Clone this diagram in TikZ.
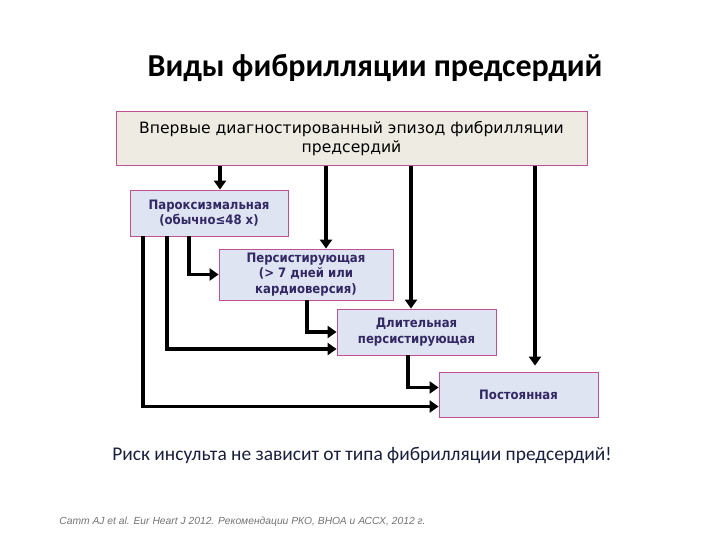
\documentclass[tikz,border=0pt]{standalone}
\usepackage{fontspec}
\setmainfont{Carlito}
\newfontfamily\boxfont{DejaVu Sans}
\newfontfamily\stagefont{DejaVu Sans Condensed}
\newfontfamily\reffont{Liberation Sans}
\usetikzlibrary{arrows.meta,positioning,calc}
\definecolor{boxbeige}{RGB}{238,236,226}
\definecolor{boxblue}{RGB}{222,228,242}
\definecolor{boxedge}{RGB}{190,80,150}
\definecolor{boxtext}{RGB}{50,40,100}
\definecolor{risktext}{RGB}{25,30,60}

\begin{document}
\begin{tikzpicture}[x=1pt,y=-1pt,
    stage/.style={draw=boxedge, line width=0.8pt, fill=boxblue, align=center,
        text=boxtext, inner sep=0pt,
        font=\stagefont\bfseries\fontsize{13}{15.5}\selectfont},
    flow/.style={line width=3.2pt, -{Triangle[length=9pt,width=12pt]}}]
    \useasboundingbox (0,0) rectangle (720,540);

    % Title
    \node[font=\bfseries\fontsize{32}{38}\selectfont] (title) at (375,68)
        {Виды фибрилляции предсердий};

    % First detected episode
    \node[stage, fill=boxbeige, text=black, minimum width=471pt, minimum height=54pt,
        font=\boxfont\fontsize{15.6}{19}\selectfont] (first) at (351.5,138.5)
        {Впервые диагностированный эпизод фибрилляции\\предсердий};

    % Types of AF
    \node[stage, minimum width=158pt, minimum height=46pt] (parox) at (209,213)
        {Пароксизмальная\\(обычно≤48 х)};
    \node[stage, minimum width=174pt, minimum height=51pt] (persist) at (306,274.5)
        {Персистирующая\\(> 7 дней или\\кардиоверсия)};
    \node[stage, minimum width=159pt, minimum height=46pt] (longpers) at (416.5,332)
        {Длительная\\персистирующая};
    \node[stage, minimum width=159pt, minimum height=45pt] (perm) at (518.5,394.5)
        {Постоянная};

    % From the first episode
    \draw[flow] (first.south -| 220,0) -- (parox.north -| 220,0);
    \draw[flow] (first.south -| 326,0) -- (persist.north -| 326,0);
    \draw[flow] (first.south -| 411,0) -- (longpers.north -| 411,0);
    \draw[flow, shorten >=6pt] (first.south -| 535,0) -- (perm.north -| 535,0);

    % Transitions
    \draw[flow] (parox.south -| 189,0) |- (persist.west);
    \draw[flow] (parox.south -| 167,0) |- ([yshift=-17pt]longpers.west);
    \draw[flow] (parox.south -| 143,0) |- ([yshift=-12pt]perm.west);
    \draw[flow] (persist.south -| 307,0) |- (longpers.west);
    \draw[flow] (longpers.south -| 408,0) |- ([yshift=7pt]perm.west);

    % Note and reference
    \node[text=risktext, font=\fontsize{19.4}{23}\selectfont] (risk) at (362,455)
        {Риск инсульта не зависит от типа фибрилляции предсердий!};
    \node[text=black!55, font=\reffont\itshape\fontsize{10.3}{12}\selectfont] (cite) at (242.5,522)
        {Camm AJ et al. Eur Heart J 2012. Рекомендации РКО, ВНОА и АССХ, 2012 г.};
\end{tikzpicture}
\end{document}
